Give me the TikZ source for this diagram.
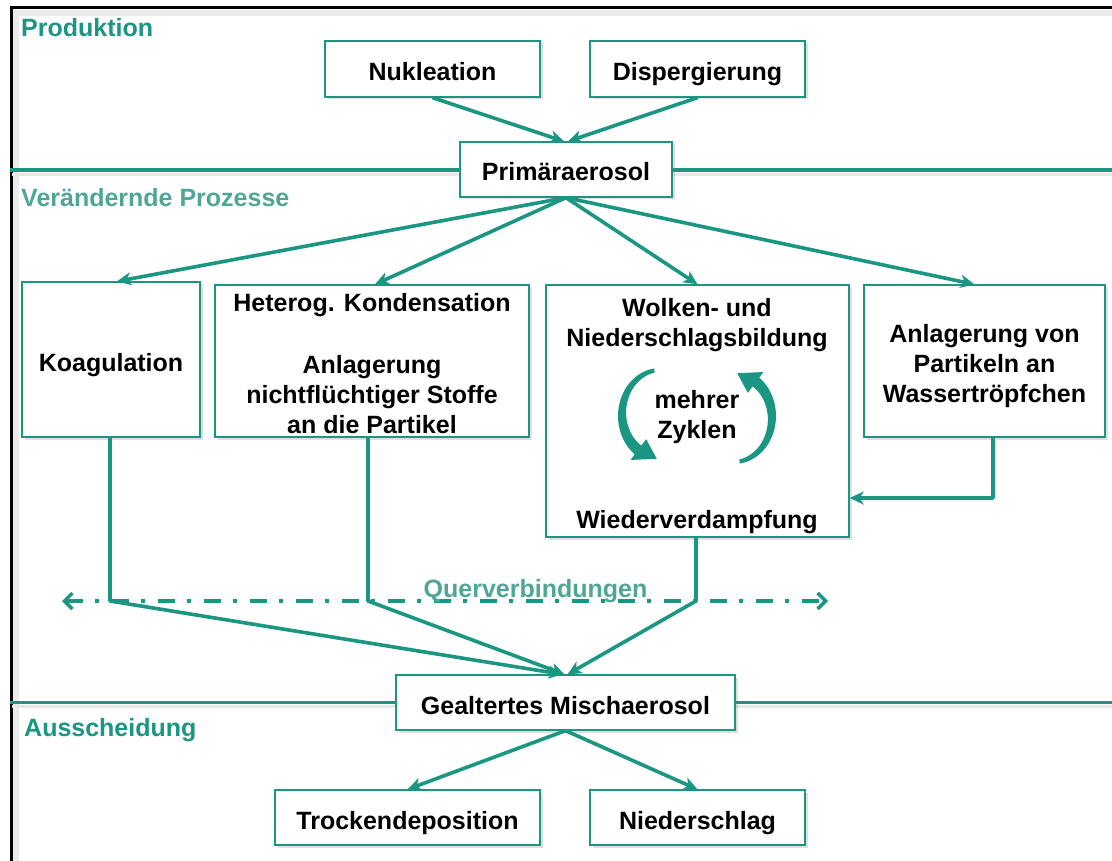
\documentclass[tikz,border=0pt]{standalone}
\usepackage{fontspec}
\setmainfont{Liberation Sans}
\usetikzlibrary{arrows.meta,shadows}
\definecolor{tealc}{RGB}{26,150,130}
\definecolor{teall}{RGB}{80,166,150}
\begin{document}
\begin{tikzpicture}[x=1pt,y=-1pt,
  font=\fontsize{25pt}{30pt}\selectfont\bfseries,
  box/.style={draw=tealc, line width=1.3pt, fill=white, align=center, inner sep=0pt,
    drop shadow={opacity=0.25, shadow xshift=2.5pt, shadow yshift=-2.5pt}},
  one/.style={text height=23pt, text depth=0pt},
  arr/.style={draw=tealc, line width=3.6pt, line join=round,
    -{Stealth[length=14pt,width=13pt,inset=4pt]}},
  seclab/.style={anchor=base west, inner sep=0pt, text=tealc},
  secline/.style={draw=tealc, line width=3.5pt},
  plain/.style={inner sep=0pt, align=center},
  cross/.style={draw=tealc, line width=3.6pt,
    dash pattern=on 17pt off 12pt on 4pt off 13pt,
    {Straight Barb[length=8pt,width=16pt,line width=3.5pt]}-{Straight Barb[length=8pt,width=16pt,line width=3.5pt]}}
]
\useasboundingbox (0,0) rectangle (1112,861);
\fill[white] (0,0) rectangle (1112,861);

% frame with faint shadow
\draw[black!8, line width=6pt] (16,861) -- (16,13) -- (1112,13);
\draw[black, line width=3pt] (11,861) -- (11,8) -- (1112,8);

% section dividers
\draw[black!9, line width=3pt] (12,175) -- (1112,175);
\draw[black!9, line width=3pt] (12,706) -- (1112,706);
\draw[secline] (10,170) -- (1112,170);
\draw[secline] (10,702.5) -- (1112,702.5);

% section labels
\node[seclab] (sp) at (21,37) {Produktion};
\node[seclab, text=teall] (sv) at (21,207) {Verändernde Prozesse};
\node[seclab] (sa) at (24,736) {Ausscheidung};

% boxes
\node[box, one, minimum width=215pt, minimum height=56pt] (nuk) at (432.5,69) {Nukleation};
\node[box, one, minimum width=215pt, minimum height=56pt] (disp) at (697.5,69) {Dispergierung};
\node[box, one, minimum width=212pt, minimum height=55pt] (prim) at (566,169.5) {Primäraerosol};
\node[box, one, minimum width=178pt, minimum height=155pt] (koag) at (111,359.5) {Koagulation};
\node[box, text height=144pt, text depth=0pt, minimum width=314pt, minimum height=152pt] (het) at (372,361) {Heterog. Kondensation\\[32pt]Anlagerung\\nichtflüchtiger Stoffe\\an die Partikel};
\node[box, minimum width=303pt, minimum height=252pt] (wolk) at (697.5,411) {};
\node[box, text height=82pt, text depth=0pt, minimum width=241pt, minimum height=152pt] (anl) at (984.5,361) {Anlagerung von\\Partikeln an\\Wassertröpfchen};
\node[box, one, minimum width=339pt, minimum height=55pt] (geal) at (565.5,702.5) {Gealtertes Mischaerosol};
\node[box, one, minimum width=265pt, minimum height=55pt] (trock) at (407.5,817.5) {Trockendeposition};
\node[box, one, minimum width=215pt, minimum height=55pt] (nied) at (697.5,817.5) {Niederschlag};

% texts inside the cloud box
\node[plain] (wt1) at (697,325) {Wolken- und\\Niederschlagsbildung};
\node[plain] (wt2) at (697,417) {mehrer\\Zyklen};
\node[plain] (wt3) at (697,522) {Wiederverdampfung};

% circular arrows
\fill[tealc] plot[domain=262:127,samples=40] ({660+42*cos(\x)},{416+48*sin(\x)})
  -- ({660+49*cos(127)},{416+55*sin(127)})
  -- ({660+37*cos(95)},{416+43*sin(95)})
  -- ({660+23*cos(127)},{416+29*sin(127)})
  -- plot[domain=127:262,samples=40] ({660+(38-7*(262-\x)/135)*cos(\x)},{416+(44-7*(262-\x)/135)*sin(\x)})
  -- cycle;
\begin{scope}[rotate around={180:(697,416)}]
\fill[tealc] plot[domain=262:127,samples=40] ({660+42*cos(\x)},{416+48*sin(\x)})
  -- ({660+49*cos(127)},{416+55*sin(127)})
  -- ({660+37*cos(95)},{416+43*sin(95)})
  -- ({660+23*cos(127)},{416+29*sin(127)})
  -- plot[domain=127:262,samples=40] ({660+(38-7*(262-\x)/135)*cos(\x)},{416+(44-7*(262-\x)/135)*sin(\x)})
  -- cycle;
\end{scope}

% production arrows
\draw[arr] (nuk.south) -- ([xshift=-2pt]prim.north);
\draw[arr] (disp.south) -- ([xshift=2pt]prim.north);

% from primary aerosol
\draw[arr] (prim.south) -- ([xshift=6pt]koag.north);
\draw[arr] (prim.south) -- ([xshift=3pt]het.north);
\draw[arr] (prim.south) -- (wolk.north);
\draw[arr] (prim.south) -- ([xshift=-10pt]anl.north);

% cross connections
\coordinate (qa) at (62,601);
\coordinate (qb) at (828,601);
\coordinate (q) at (0,601);
\coordinate (r) at (0,498);
\draw[cross] (qa) -- (qb);
\node[plain, anchor=base, text=teall] (qv) at (535.5,597) {Querverbindungen};

\draw[arr] ([xshift=-1pt]koag.south) -- ([xshift=-1pt]koag.south |- q) -- ([xshift=-3pt]geal.north);
\draw[arr] ([xshift=-4pt]het.south) -- ([xshift=-4pt]het.south |- q) -- ([xshift=-1pt]geal.north);
\draw[arr] ([xshift=-1.5pt]wolk.south) -- ([xshift=-1.5pt]wolk.south |- q) -- ([xshift=2pt]geal.north);

\draw[arr] ([xshift=8.5pt]anl.south) |- (wolk.east |- r);

% removal
\draw[arr] (geal.south) -- (trock.north);
\draw[arr] (geal.south) -- (nied.north);
\end{tikzpicture}
\end{document}
